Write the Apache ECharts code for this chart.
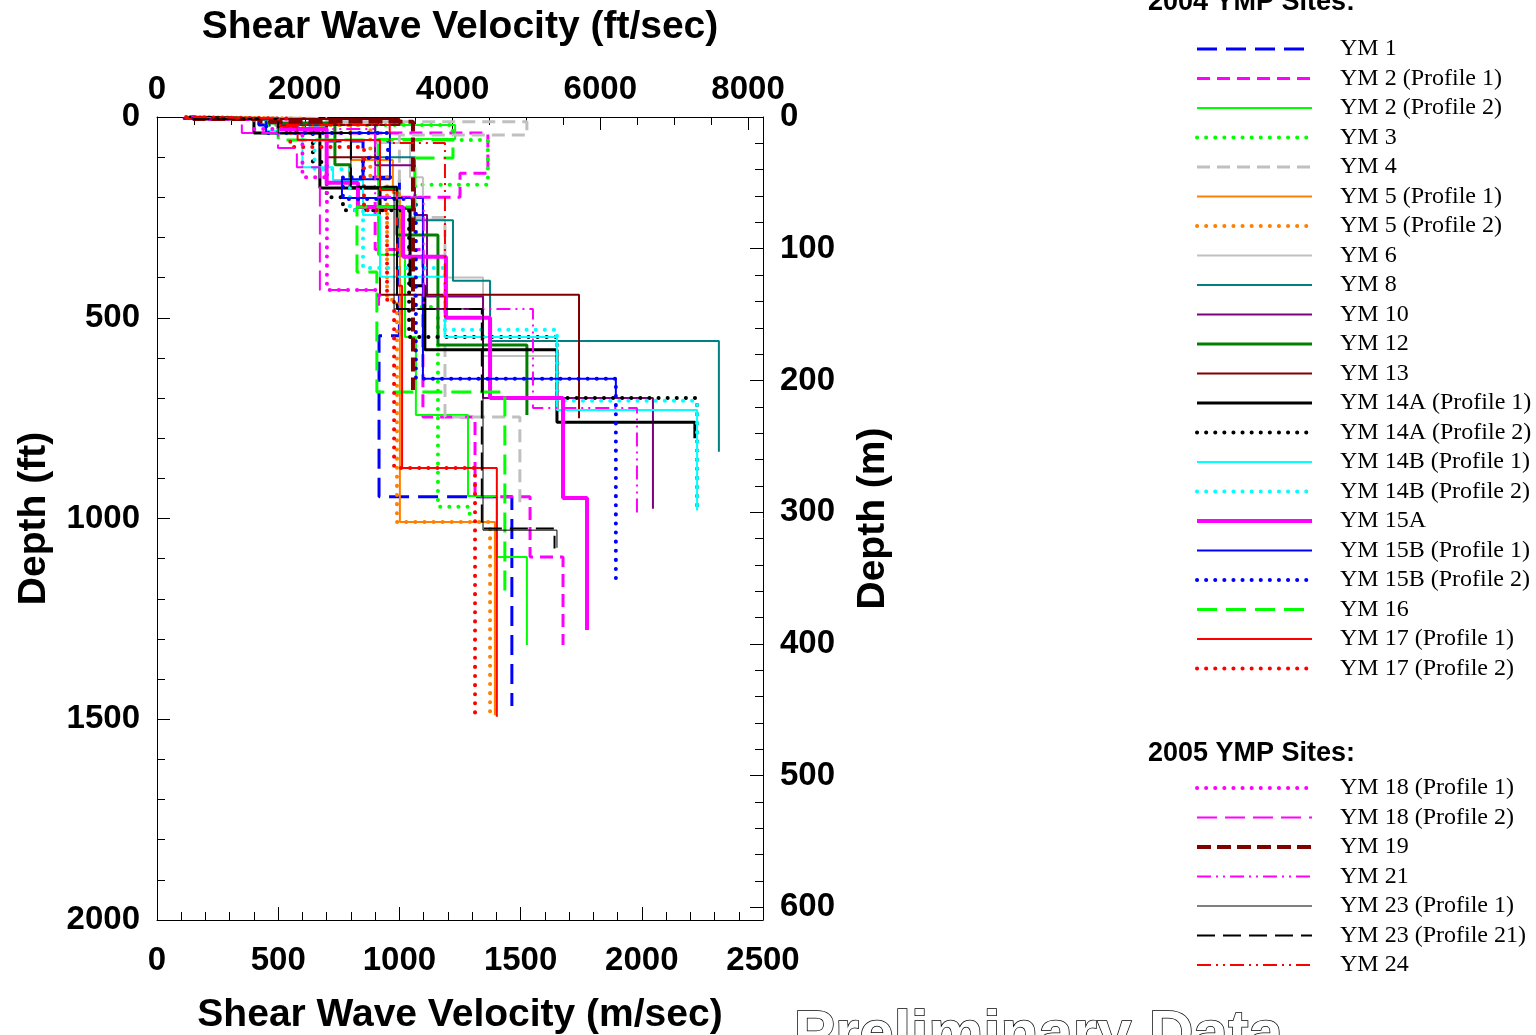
<!DOCTYPE html>
<html>
<head>
<meta charset="utf-8">
<title>Shear Wave Velocity Profiles</title>
<script src="https://cdn.jsdelivr.net/npm/echarts@6/dist/echarts.min.js"></script>
<style>
html, body { margin: 0; padding: 0; background: #fff; }
#chart { width: 1536px; height: 1035px; }
</style>
</head>
<body>
<div id="chart"></div>
<script>
// each profile: layers of [velocity (m/sec), layer bottom depth (ft)]
const ym1 = [[180, 5], [420, 20], [700, 60], [850, 150], [1000, 545], [916, 946], [1464, 1467]];
const ym2p1 = [[200, 5], [560, 40], [1365, 140], [1250, 200], [900, 330], [1097, 747], [1312, 946], [1539, 1096], [1675, 1315]];
const ym2p2 = [[120, 5], [500, 20], [1230, 55], [912, 343], [1023, 548], [1068, 742], [1283, 944], [1402, 1096], [1526, 1315]];
const ym3 = [[150, 5], [450, 20], [1220, 57], [1365, 169], [1064, 473], [1159, 971], [1290, 1000]];
const ym4 = [[200, 4], [700, 12], [1526, 45], [1000, 250], [1188, 747], [1497, 971]];
const ym5p1 = [[120, 4], [650, 20], [800, 107], [973, 189], [1002, 1009], [1394, 1490]];
const ym5p2 = [[140, 4], [600, 20], [880, 150], [949, 455], [990, 1009], [1374, 1482]];
const ym6 = [[200, 5], [500, 15], [900, 65], [1044, 150], [1097, 255], [1188, 400], [1345, 595], [1650, 700]];
const ym8 = [[150, 5], [500, 20], [900, 100], [1064, 257], [1221, 408], [1374, 558], [2318, 834]];
const ym10 = [[110, 5], [500, 20], [900, 120], [1064, 244], [1114, 447], [1345, 700], [2046, 976]];
const ym12 = [[150, 5], [450, 15], [734, 119], [796, 177], [990, 294], [1159, 568], [1526, 742]];
const ym13 = [[150, 5], [1000, 20], [700, 100], [920, 443], [1741, 750]];
const ym14ap1 = [[130, 4], [400, 40], [672, 177], [920, 227], [1044, 420], [1105, 580], [1650, 760], [2219, 800]];
const ym14ap2 = [[150, 5], [450, 40], [643, 112], [700, 200], [767, 232], [1040, 548], [1650, 700], [2228, 976]];
const ym14bp1 = [[150, 5], [450, 35], [600, 125], [726, 157], [850, 244], [920, 398], [1188, 548], [1650, 730], [2228, 980]];
const ym14bp2 = [[150, 5], [450, 40], [650, 130], [796, 232], [850, 376], [1188, 530], [1650, 707], [2228, 980]];
const ym15a = [[150, 5], [500, 30], [700, 164], [829, 224], [1015, 348], [1192, 500], [1374, 700], [1675, 949], [1774, 1278]];
const ym15bp1 = [[150, 5], [450, 40], [961, 155], [763, 202], [1097, 652], [1893, 700]];
const ym15bp2 = [[150, 5], [450, 40], [953, 102], [850, 150], [767, 204], [1068, 652], [1893, 1153]];
const ym16 = [[150, 5], [500, 57], [1221, 102], [1064, 224], [825, 386], [907, 685], [1435, 1190]];
const ym17p1 = [[120, 5], [500, 25], [580, 57], [920, 182], [990, 420], [1011, 874], [1402, 1494]];
const ym17p2 = [[120, 4], [550, 75], [854, 232], [949, 455], [978, 874], [1312, 1489]];
const ym18p1 = [[150, 5], [400, 30], [600, 150], [701, 431], [916, 460]];
const ym18p2 = [[150, 5], [350, 40], [499, 77], [577, 125], [672, 431], [916, 470]];
const ym19 = [[150, 5], [425, 12], [1056, 680]];
const ym21 = [[150, 5], [500, 30], [900, 200], [1100, 478], [1551, 725], [1980, 996]];
const ym23p1 = [[150, 5], [500, 40], [800, 174], [978, 478], [1345, 1029], [1650, 1073]];
const ym23p2 = [[150, 5], [500, 40], [800, 174], [990, 478], [1340, 1025], [1640, 1075]];
const ym24 = [[150, 4], [500, 20], [960, 65], [1188, 500]];

const names2004 = ['YM 1', 'YM 2 (Profile 1)', 'YM 2 (Profile 2)', 'YM 3', 'YM 4', 'YM 5 (Profile 1)', 'YM 5 (Profile 2)',
  'YM 6', 'YM 8', 'YM 10', 'YM 12', 'YM 13', 'YM 14A (Profile 1)', 'YM 14A (Profile 2)', 'YM 14B (Profile 1)',
  'YM 14B (Profile 2)', 'YM 15A', 'YM 15B (Profile 1)', 'YM 15B (Profile 2)', 'YM 16', 'YM 17 (Profile 1)', 'YM 17 (Profile 2)'];
const names2005 = ['YM 18 (Profile 1)', 'YM 18 (Profile 2)', 'YM 19', 'YM 21', 'YM 23 (Profile 1)', 'YM 23 (Profile 21)', 'YM 24'];

const FT_TO_M = 0.3048;
const SANS = 'Liberation Sans, Arial, sans-serif';
const SERIF = 'Liberation Serif, Times New Roman, serif';

const DOT = [0.1, 9];
const styles = [
  [ym1, '#0000ff', 3, [20, 9]],
  [ym2p1, '#ff00ff', 3, [13, 7]],
  [ym2p2, '#00ff00', 2, 'solid'],
  [ym3, '#00ff00', 4, DOT],
  [ym4, '#c0c0c0', 3, [13, 7]],
  [ym5p1, '#ff8000', 2, 'solid'],
  [ym5p2, '#ff8000', 4, DOT],
  [ym6, '#c0c0c0', 2, 'solid'],
  [ym8, '#008080', 2, 'solid'],
  [ym10, '#800080', 2, 'solid'],
  [ym12, '#008000', 3, 'solid'],
  [ym13, '#800000', 2, 'solid'],
  [ym14ap1, '#000000', 3, 'solid'],
  [ym14ap2, '#000000', 4, DOT],
  [ym14bp1, '#00ffff', 2, 'solid'],
  [ym14bp2, '#00ffff', 4, DOT],
  [ym15a, '#ff00ff', 4, 'solid'],
  [ym15bp1, '#0000ff', 2, 'solid'],
  [ym15bp2, '#0000ff', 4, DOT],
  [ym16, '#00ff00', 3, [20, 9]],
  [ym17p1, '#ff0000', 2, 'solid'],
  [ym17p2, '#ff0000', 4, DOT],
  [ym18p1, '#ff00ff', 4, DOT],
  [ym18p2, '#ff00ff', 2, [20, 8]],
  [ym19, '#800000', 4, [14, 6]],
  [ym21, '#ff00ff', 2, [14, 5, 2, 5, 2, 5]],
  [ym23p1, '#000000', 1, 'solid'],
  [ym23p2, '#000000', 2, [18, 8]],
  [ym24, '#ff0000', 2, [14, 5, 2, 5, 2, 5]]
];
const allNames = names2004.concat(names2005);

// turn layers into a stepped depth profile
function stepLine(layers) {
  const pts = [];
  let top = 0;
  layers.forEach(([v, bottom]) => {
    pts.push([v, top], [v, bottom]);
    top = bottom;
  });
  return pts;
}

function lineStyleOf(s) {
  return { color: s[1], width: s[2], type: s[3], cap: s[3] === DOT ? 'round' : 'butt' };
}

const series = styles.map((s, i) => ({
  name: allNames[i],
  type: 'line',
  data: stepLine(s[0]),
  symbol: 'none',
  showSymbol: false,
  silent: true,
  itemStyle: { color: s[1] },
  lineStyle: lineStyleOf(s)
}));

const legendItems = allNames.map((name, i) => ({ name: name, lineStyle: lineStyleOf(styles[i]) }));

const tickCommon = {
  axisLine: { show: true, onZero: false, lineStyle: { color: '#000', width: 1 } },
  axisTick: { show: true, inside: true, length: 13, lineStyle: { color: '#000', width: 1 } },
  splitLine: { show: false }
};
const labelFont = { fontFamily: SANS, fontWeight: 'bold', fontSize: 33, color: '#000' };
const nameFont = { fontFamily: SANS, fontWeight: 'bold', fontSize: 39, color: '#000' };

const chart = echarts.init(document.getElementById('chart'));

const legendCommon = {
  orient: 'vertical',
  left: 1195,
  itemWidth: 115,
  itemHeight: 14,
  itemGap: 5.5,
  padding: 0,
  selectedMode: false,
  itemStyle: { opacity: 0 },
  textStyle: { fontFamily: SERIF, fontSize: 24, color: '#000', lineHeight: 24, padding: [0, 0, 0, 23] }
};

const option = {
  animation: false,
  backgroundColor: '#fff',
  grid: { left: 157, right: 773, top: 117, bottom: 115, containLabel: false, outerBoundsMode: 'none' },
  xAxis: [
    Object.assign({
      type: 'value', position: 'bottom', min: 0, max: 2500, interval: 500,
      name: 'Shear Wave Velocity (m/sec)', nameLocation: 'middle', nameGap: 76, nameTextStyle: nameFont,
      minorTick: { show: true, splitNumber: 5, length: 8, lineStyle: { color: '#000' } },
      axisLabel: Object.assign({ margin: 24, formatter: v => String(v) }, labelFont)
    }, tickCommon),
    Object.assign({
      type: 'value', position: 'top', min: 0, max: 2500 / FT_TO_M, interval: 2000,
      name: 'Shear Wave Velocity (ft/sec)', nameLocation: 'middle', nameGap: 70, nameTextStyle: nameFont,
      minorTick: { show: true, splitNumber: 4, length: 8, lineStyle: { color: '#000' } },
      axisLabel: Object.assign({ margin: 11, formatter: v => (v % 2000 === 0 ? String(v) : '') }, labelFont)
    }, tickCommon)
  ],
  yAxis: [
    Object.assign({
      type: 'value', position: 'left', inverse: true, min: 0, max: 2000, interval: 500,
      name: 'Depth (ft)', nameLocation: 'middle', nameRotate: 90, nameGap: 103, nameTextStyle: nameFont,
      minorTick: { show: true, splitNumber: 5, length: 8, lineStyle: { color: '#000' } },
      axisLabel: Object.assign({ margin: 17, formatter: v => String(v) }, labelFont)
    }, tickCommon),
    Object.assign({
      type: 'value', position: 'right', inverse: true, min: 0, max: 2000 * FT_TO_M, interval: 100,
      name: 'Depth (m)', nameLocation: 'middle', nameRotate: 90, nameGap: 91, nameTextStyle: nameFont,
      minorTick: { show: true, splitNumber: 5, length: 8, lineStyle: { color: '#000' } },
      axisLabel: Object.assign({ margin: 17, formatter: v => (v % 100 === 0 ? String(v) : '') }, labelFont)
    }, tickCommon)
  ],
  legend: [
    Object.assign({ data: legendItems.slice(0, names2004.length), top: 37 }, legendCommon),
    Object.assign({ data: legendItems.slice(names2004.length), top: 776 }, legendCommon)
  ],
  graphic: [
    { type: 'text', left: 1148, top: -11, style: { text: '2004 YMP Sites:', font: 'bold 27px ' + SANS, fill: '#000' } },
    { type: 'text', left: 1148, top: 740, style: { text: '2005 YMP Sites:', font: 'bold 27px ' + SANS, fill: '#000' } },
    { type: 'text', left: 793, top: 1004, style: { text: 'Preliminary Data', font: 'bold 62px ' + SANS, fill: '#fff', stroke: '#000', lineWidth: 1.5 } }
  ],
  series: series
};

chart.setOption(option);
</script>
</body>
</html>
